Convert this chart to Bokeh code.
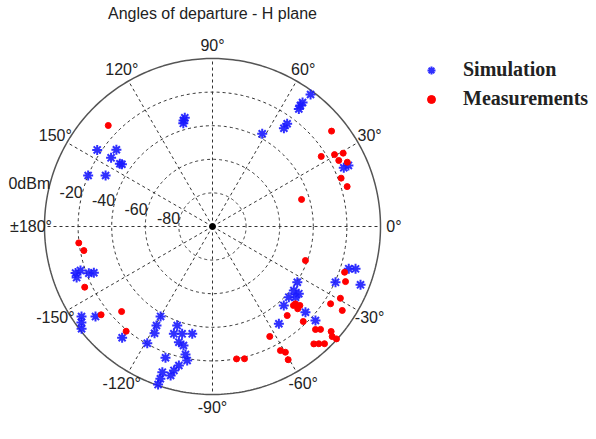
import numpy as np
from bokeh.plotting import figure
from bokeh.models import ColumnDataSource, Legend, LegendItem, Range1d
from bokeh.core.properties import value
from bokeh.embed import file_html
from bokeh.resources import INLINE

# ---------------- data ----------------
title_text = "Angles of departure - H plane"
angle_ticks = [0, 30, 60, 90, 120, 150, 180, -150, -120, -90, -60, -30]
angle_tick_labels = ["0°", "30°", "60°", "90°", "120°", "150°", "±180°",
                     "-150°", "-120°", "-90°", "-60°", "-30°"]
ring_levels = [0, -20, -40, -60, -80]
ring_labels = ["0dBm", "-20", "-40", "-60", "-80"]
r_min, r_max = -100.0, 0.0

sim_angle = [105.3, 104.3, 105.8,
             146.4, 141.4, 145.9, 145.9, 145.5, 157.7, 154.5,
             53.4, 54.0, 53.7, 54.0, 54.0, 54.0, 61.8, 24.1, 24.2,
             -17.2, -16.5, -21.5, -24.4, -33.3, -38.2, -37.9, -42.8, -47.9,
             -40.4, -42.7, -42.4, -55.7,
             -120.0, -119.5, -118.5, -119.2, -109.6, -109.8, -105.8, -100.7,
             -106.2, -103.7, -109.7, -101.9, -100.7, -103.6, -105.0, -105.7,
             -109.0, -108.9, -109.0,
             -161.2, -161.6, -159.3, -158.7, -159.4, -145.5, -142.0, -142.4,
             -129.1, -143.8]
sim_power = [-34.6, -33.2, -36.2,
             -17.6, -26.8, -27.1, -33.4, -34.6, -20.0, -29.5,
             -2.1, -11.0, -13.2, -8.8, -24.4, -27.7, -37.4, -14.4, -11.3,
             -15.1, -11.2, -5.3, -19.6, -39.6, -38.4, -34.9, -38.1, -36.7,
             -35.1, -24.7, -17.0, -29.9,
             -38.2, -32.3, -27.7, -20.4, -37.4, -32.1, -33.6, -35.0,
             -28.3, -27.1, -17.0, -22.1, -18.8, -14.9, -11.3, -7.9,
             -8.3, -4.2, -0.5,
             -13.9, -17.2, -21.3, -24.2, -13.6, -5.4, -1.1, -12.1,
             -14.7, -3.3]

meas_angle = [135.9, 38.7, 32.8, 30.5, 29.3, 27.6, 25.5, 20.6, 16.5, 16.9,
              -20.1, -22.5, -19.1, -29.3, -33.2, -32.9, -43.0, -42.1, -44.0,
              -44.3, -50.0, -46.3, -45.0, -43.6, -41.5, -42.2, -42.6, -49.2,
              -47.8, -46.3, -62.5, -61.3, -59.9, -60.4, -79.7, -76.4,
              -173.0, -169.4, -154.6, -136.9, -141.6, -129.5]
meas_power = [-13.6, -9.2, -23.0, -15.7, -10.8, -15.2, -11.1, -18.2, -16.4, -44.6,
              -41.1, -14.3, -16.8, -12.7, -16.0, -8.0, -32.5, -29.9, -29.5,
              -32.7, -30.8, -21.8, -13.3, -11.2, -5.7, -0.4, -3.2, -7.7,
              -5.8, -3.5, -26.2, -15.8, -13.5, -8.8, -19.9, -19.0,
              -19.8, -22.1, -15.8, -25.9, -15.4, -19.2]


def to_xy(ang_deg, pw):
    a = np.radians(np.asarray(ang_deg, dtype=float))
    r = (np.asarray(pw, dtype=float) - r_min) / (r_max - r_min)
    return r * np.cos(a), r * np.sin(a)


# ---------------- figure ----------------
W, H = 596, 439
R_PX = 168.0
CX, CY = 212.0, 226.0
p = figure(width=W, height=H, output_backend="svg", toolbar_location=None,
           x_range=Range1d(-CX / R_PX, (W - CX) / R_PX),
           y_range=Range1d(-(H - CY) / R_PX, CY / R_PX),
           x_axis_location=None, y_axis_location=None, min_border=0,
           outline_line_color=None, background_fill_color="white")
p.grid.visible = False

grid_col = "#333333"
t = np.linspace(0, 2 * np.pi, 361)
# dashed rings
ring_xs, ring_ys = [], []
for lv in ring_levels[1:]:
    rr = (lv - r_min) / (r_max - r_min)
    ring_xs.append(list(rr * np.cos(t)))
    ring_ys.append(list(rr * np.sin(t)))
p.multi_line(ring_xs, ring_ys, line_color=grid_col, line_dash="3 3", line_width=1)
# spokes
sp_xs, sp_ys = [], []
for a in range(0, 360, 30):
    ar = np.radians(a)
    sp_xs.append([0, np.cos(ar)])
    sp_ys.append([0, np.sin(ar)])
p.multi_line(sp_xs, sp_ys, line_color=grid_col, line_dash="3 3", line_width=1)
# outer circle
p.line(list(np.cos(t)), list(np.sin(t)), line_color="#555555", line_width=1.5)
# centre dot
p.scatter([0], [0], size=6, color="black")

# angle labels
la = np.radians(np.array(angle_ticks, dtype=float))
p.text(x=list(1.08 * np.cos(la)), y=list(1.08 * np.sin(la)), text=angle_tick_labels,
       text_align="center", text_baseline="middle",
       text_font=value("Liberation Sans"), text_font_size="16px", text_color="#222222")

# radial labels along 165 degrees
rl = [(lv - r_min) / (r_max - r_min) for lv in ring_levels]
ra = np.radians(165.0)
p.text(x=[r * np.cos(ra) for r in rl], y=[r * np.sin(ra) for r in rl], text=ring_labels,
       text_align="right", text_baseline="middle",
       text_font=value("Liberation Sans"), text_font_size="16px", text_color="#222222")

# title
p.text(x=[0.0], y=[(CY - 13) / R_PX], text=[title_text], text_align="center",
       text_baseline="middle", text_font=value("Liberation Sans"),
       text_font_size="16px", text_color="#222222")

# data
sx, sy = to_xy(sim_angle, sim_power)
mx, my = to_xy(meas_angle, meas_power)
sim_r = p.scatter(list(sx), list(sy), marker="asterisk", size=10, line_width=2,
                  line_color="#1a1aff", line_alpha=0.9)
meas_r = p.scatter(list(mx), list(my), marker="circle", size=6,
                   fill_color="#ff0000", line_color="#ff0000")

legend = Legend(items=[LegendItem(label="Simulation", renderers=[sim_r]),
                       LegendItem(label="Measurements", renderers=[meas_r])],
                location=(421, 329), orientation="vertical",
                label_text_font="Liberation Serif", label_text_font_style="bold",
                label_text_font_size="20px", label_text_color="#222222",
                border_line_color=None, background_fill_alpha=0,
                glyph_width=20, glyph_height=20, label_height=20,
                spacing=6, padding=0, margin=0, label_standoff=22)
p.add_layout(legend)

open("out.html", "w").write(file_html(p, INLINE))
